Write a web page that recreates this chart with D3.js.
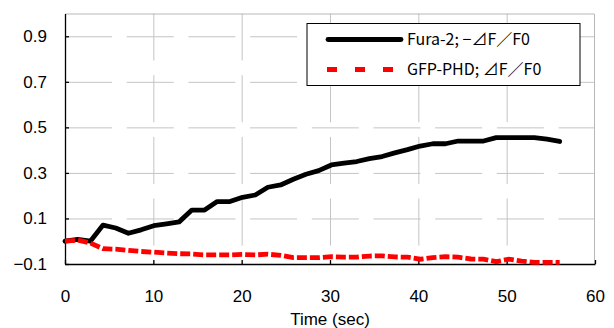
<!DOCTYPE html>
<html>
<head>
<meta charset="utf-8">
<script src="https://cdn.jsdelivr.net/npm/d3@7"></script>
<style>
  body { margin: 0; background: #fff; }
  svg { display: block; font-family: "Noto Sans CJK JP", "Noto Sans", sans-serif; }
</style>
</head>
<body>
<script>
// chart data
var times = [0, 1.44, 2.87, 4.31, 5.74, 7.18, 8.62, 10.05, 11.49, 12.92,
             14.36, 15.8, 17.23, 18.67, 20.1, 21.54, 22.97, 24.41, 25.85, 27.28,
             28.72, 30.15, 31.59, 33.03, 34.46, 35.9, 37.33, 38.77, 40.21, 41.64,
             43.08, 44.51, 45.95, 47.38, 48.82, 50.26, 51.69, 53.13, 54.56, 56];
var fura = [0.0, 0.008, 0.0, 0.071, 0.058, 0.035, 0.05, 0.068, 0.076, 0.085,
            0.137, 0.137, 0.174, 0.174, 0.193, 0.203, 0.237, 0.247, 0.272, 0.294,
            0.31, 0.335, 0.343, 0.35, 0.363, 0.372, 0.388, 0.402, 0.418, 0.428,
            0.428, 0.44, 0.44, 0.44, 0.455, 0.455, 0.455, 0.455, 0.448, 0.438];
var gfp = [0.0, 0.005, -0.008, -0.033, -0.035, -0.04, -0.045, -0.048, -0.052, -0.055,
           -0.056, -0.06, -0.06, -0.06, -0.058, -0.06, -0.057, -0.062, -0.072, -0.072,
           -0.072, -0.068, -0.07, -0.07, -0.065, -0.064, -0.069, -0.07, -0.079, -0.072,
           -0.068, -0.07, -0.078, -0.079, -0.09, -0.079, -0.087, -0.093, -0.093, -0.093];
var seriesNames = ["Fura-2; \u2212\u22BFF\uFF0FF0", "GFP-PHD; \u22BFF\uFF0FF0"];
var xTicks = [0, 10, 20, 30, 40, 50, 60];
var yTicks = [-0.1, 0.1, 0.3, 0.5, 0.7, 0.9];

var margin = {top: 13.5, right: 19, bottom: 64, left: 65},
    width = 614 - margin.left - margin.right,
    height = 328 - margin.top - margin.bottom;

var x = d3.scaleLinear().domain([0, 60]).range([0, width]);
var y = d3.scaleLinear().domain([-0.1, 1.0]).range([height, 0]);

var svg = d3.select("body").append("svg")
    .attr("width", 614)
    .attr("height", 328)
    .append("g")
    .attr("transform", "translate(" + margin.left + "," + margin.top + ")");

// grid lines (long dashes like the original)
svg.append("g")
    .attr("class", "grid")
    .call(d3.axisLeft(y).tickValues(yTicks.slice(1)).tickSize(-width).tickFormat(""))
    .call(g => g.select(".domain").remove())
    .selectAll("line")
    .attr("stroke", "#c4c4c4")
    .attr("stroke-dasharray", "47,14.7");

svg.append("g")
    .attr("class", "grid")
    .call(d3.axisTop(x).tickValues(xTicks.slice(1, -1)).tickSize(-height).tickFormat(""))
    .call(g => g.select(".domain").remove())
    .selectAll("line")
    .attr("stroke", "#c4c4c4")
    .attr("stroke-dasharray", "47,14.7");

// top and right frame
svg.append("path")
    .attr("d", "M0,0.5H" + (width - 0.5) + "V" + height)
    .attr("fill", "none")
    .attr("stroke", "#b8b8b8");

// axes
var xAxis = svg.append("g")
    .attr("transform", "translate(0," + height + ")")
    .call(d3.axisBottom(x).tickValues(xTicks).tickSizeInner(-4).tickSizeOuter(0).tickPadding(26));
var yAxis = svg.append("g")
    .call(d3.axisLeft(y).tickValues(yTicks).tickSizeInner(-4).tickSizeOuter(0).tickPadding(18)
      .tickFormat(d => d < 0 ? "\u2212" + Math.abs(d) : d));

[xAxis, yAxis].forEach(function(a) {
  a.selectAll(".domain").attr("stroke", "#000").attr("stroke-width", 1.3);
  a.selectAll(".tick line").attr("stroke", "#000").attr("stroke-width", 1.3);
  a.selectAll("text").attr("font-size", 17).attr("fill", "#000")
    .attr("font-family", "\"Liberation Sans\", Arial, sans-serif");
});

svg.append("text")
    .attr("x", width / 2)
    .attr("y", height + 60.5)
    .attr("text-anchor", "middle")
    .attr("font-size", 17)
    .attr("font-family", "\"Liberation Sans\", Arial, sans-serif")
    .text("Time (sec)");

// lines
var line = d3.line()
    .x(function(d, i) { return x(times[i]); })
    .y(function(d) { return y(d); });

svg.append("path")
    .datum(fura)
    .attr("fill", "none")
    .attr("stroke", "#000")
    .attr("stroke-width", 4.8)
    .attr("stroke-linejoin", "round")
    .attr("stroke-linecap", "round")
    .attr("d", line);

svg.append("path")
    .datum(gfp)
    .attr("fill", "none")
    .attr("stroke", "#ff0000")
    .attr("stroke-width", 4.8)
    .attr("stroke-dasharray", "10,3")
    .attr("d", line);

// legend
var lg = svg.append("g").attr("transform", "translate(" + (307 - margin.left) + "," + (23.5 - margin.top) + ")");
lg.append("rect")
    .attr("width", 273)
    .attr("height", 62)
    .attr("fill", "#fff")
    .attr("stroke", "#000");

lg.append("line")
    .attr("x1", 21).attr("x2", 94).attr("y1", 16).attr("y2", 16)
    .attr("stroke", "#000").attr("stroke-width", 4.8).attr("stroke-linecap", "round");
lg.append("line")
    .attr("x1", 20).attr("x2", 86).attr("y1", 46).attr("y2", 46)
    .attr("stroke", "#ff0000").attr("stroke-width", 4.8).attr("stroke-dasharray", "10,18");

lg.selectAll(".label")
    .data(seriesNames)
    .enter().append("text")
    .attr("class", "label")
    .attr("x", 100)
    .attr("y", function(d, i) { return 16 + i * 30; })
    .attr("dy", "0.36em")
    .attr("font-size", 16)
    .text(function(d) { return d; });
</script>
</body>
</html>
